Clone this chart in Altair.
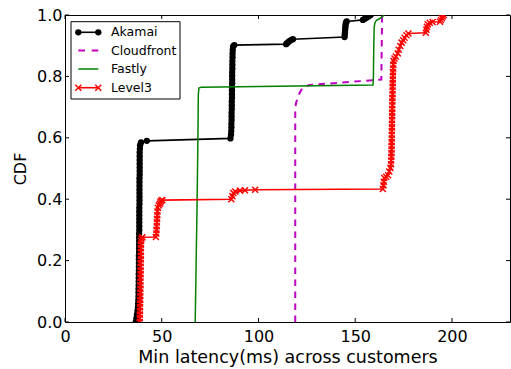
import altair as alt
import pandas as pd

# ---------------- data ----------------
series_names = ["Akamai", "Cloudfront", "Fastly", "Level3"]
series_colors = ["#000000", "#bf00bf", "#008000", "#ff0000"]

# (latency ms, CDF) points, one per customer step
akamai_pts = [
    (36.6, 0.000), (36.9, 0.012), (37.2, 0.024), (37.5, 0.036), (37.7, 0.048), (37.8, 0.060),
    (37.9, 0.072), (38.0, 0.084), (38.0, 0.096), (38.0, 0.108), (38.1, 0.120), (38.1, 0.132),
    (38.1, 0.144), (38.1, 0.156), (38.2, 0.168), (38.2, 0.180), (38.2, 0.192), (38.2, 0.204),
    (38.2, 0.216), (38.3, 0.228), (38.3, 0.240), (38.3, 0.252), (38.3, 0.264), (38.3, 0.276),
    (38.3, 0.288), (38.4, 0.300), (38.4, 0.312), (38.4, 0.324), (38.4, 0.336), (38.4, 0.348),
    (38.4, 0.360), (38.4, 0.372), (38.5, 0.384), (38.5, 0.396), (38.5, 0.408), (38.5, 0.420),
    (38.5, 0.432), (38.5, 0.444), (38.5, 0.456), (38.5, 0.468), (38.6, 0.480), (38.6, 0.492),
    (38.6, 0.504), (38.6, 0.516), (38.6, 0.528), (38.6, 0.540), (38.6, 0.552), (38.7, 0.564),
    (38.8, 0.576), (39.3, 0.585), (42.3, 0.590),
    (85.5, 0.598), (85.8, 0.610), (85.9, 0.622), (86.0, 0.634), (86.0, 0.646), (86.1, 0.658),
    (86.1, 0.670), (86.1, 0.682), (86.2, 0.694), (86.2, 0.706), (86.2, 0.718), (86.3, 0.730),
    (86.3, 0.742), (86.3, 0.754), (86.3, 0.766), (86.4, 0.778), (86.4, 0.790), (86.4, 0.802),
    (86.4, 0.814), (86.5, 0.826), (86.5, 0.838), (86.5, 0.850), (86.6, 0.862), (86.6, 0.874),
    (86.7, 0.886), (86.9, 0.898), (87.5, 0.902),
    (114.3, 0.905), (114.8, 0.908), (115.5, 0.912), (116.2, 0.916), (117.0, 0.919), (117.8, 0.921),
    (144.5, 0.928), (144.6, 0.936), (144.7, 0.944), (144.8, 0.952), (144.9, 0.960), (145.0, 0.968),
    (145.2, 0.975), (145.6, 0.979),
    (154.0, 0.984), (155.0, 0.988), (156.0, 0.992), (157.0, 0.996), (158.0, 1.000),
]

cloudfront_pts = [
    (119.0, 0.0), (119.0, 0.70), (119.5, 0.715), (120.3, 0.73), (121.2, 0.745), (122.5, 0.76),
    (124.5, 0.768), (126.4, 0.772), (160.0, 0.788), (163.5, 0.790), (163.7, 0.90), (163.9, 1.0),
]

fastly_pts = [
    (67.3, 0.0), (67.8, 0.2), (68.3, 0.4), (68.7, 0.6), (68.9, 0.74), (69.2, 0.762), (70.5, 0.765),
    (159.2, 0.772), (159.4, 0.80), (159.6, 0.90), (159.8, 0.96), (160.2, 0.975), (161.0, 0.983),
    (162.3, 0.987), (164.0, 0.995), (165.0, 1.0),
]

level3_pts = [
    (38.6, 0.000), (38.6, 0.012), (38.7, 0.024), (38.7, 0.036), (38.8, 0.048), (38.8, 0.060),
    (38.9, 0.072), (38.9, 0.084), (38.9, 0.096), (39.0, 0.108), (39.0, 0.120), (39.0, 0.132),
    (39.0, 0.144), (39.1, 0.156), (39.1, 0.168), (39.1, 0.180), (39.1, 0.192), (39.2, 0.204),
    (39.2, 0.216), (39.2, 0.228), (39.2, 0.240), (39.3, 0.252), (39.3, 0.264), (39.5, 0.272),
    (40.0, 0.276),
    (47.0, 0.277), (47.2, 0.288), (47.3, 0.300), (47.4, 0.312), (47.5, 0.324), (47.6, 0.336),
    (47.7, 0.348), (47.8, 0.360), (48.0, 0.372), (48.5, 0.380), (49.0, 0.385), (49.3, 0.390),
    (49.6, 0.395), (50.3, 0.397),
    (86.0, 0.400), (86.5, 0.410), (87.0, 0.420), (88.0, 0.425), (90.5, 0.428), (93.0, 0.429),
    (98.3, 0.431),
    (164.3, 0.433), (164.6, 0.445), (164.8, 0.457), (165.0, 0.469), (166.0, 0.473), (167.0, 0.478),
    (167.6, 0.490), (168.2, 0.502), (168.5, 0.514), (168.6, 0.526),
    (168.7, 0.538), (168.7, 0.550), (168.8, 0.562), (168.8, 0.574), (168.8, 0.586), (168.9, 0.598),
    (168.9, 0.610), (168.9, 0.622), (169.0, 0.634), (169.0, 0.646), (169.0, 0.658), (169.1, 0.670),
    (169.1, 0.682), (169.1, 0.694), (169.2, 0.706), (169.2, 0.718), (169.2, 0.730), (169.3, 0.742),
    (169.3, 0.754), (169.3, 0.766), (169.4, 0.778), (169.4, 0.790), (169.5, 0.802), (169.5, 0.814),
    (169.6, 0.826), (169.7, 0.838), (169.8, 0.850),
    (170.3, 0.858), (171.0, 0.865), (172.0, 0.875), (172.5, 0.887), (173.3, 0.899), (174.0, 0.910),
    (174.8, 0.918), (175.5, 0.926), (176.5, 0.934), (177.5, 0.940),
    (186.5, 0.942), (186.8, 0.952), (187.1, 0.962), (187.5, 0.970), (188.5, 0.975), (190.0, 0.977),
    (193.8, 0.978), (194.3, 0.984), (194.8, 0.990), (195.2, 0.995), (195.7, 1.000),
]

x_ticks = [0, 50, 100, 150, 200]
y_ticks = [0.0, 0.2, 0.4, 0.6, 0.8, 1.0]
x_title = "Min latency(ms) across customers"
y_title = "CDF"

# ---------------- layout ----------------
W, H = 445, 307
FONT = "DejaVu Sans"

xscale = alt.Scale(domain=[0, 230], nice=False, zero=False)
yscale = alt.Scale(domain=[0, 1], nice=False, zero=False)

xaxis = alt.Axis(values=x_ticks, ticks=False, domain=False, grid=False, format="d",
                 labelFontSize=16, labelFont=FONT, labelColor="black", labelPadding=6,
                 labelFlush=False, labelOverlap=False,
                 title=x_title, titleFont=FONT, titleFontSize=17.5, titleFontWeight="normal",
                 titleColor="black", titlePadding=4)
yaxis = alt.Axis(values=y_ticks, ticks=False, domain=False, grid=False, format=".1f",
                 labelFontSize=16, labelFont=FONT, labelColor="black", labelPadding=3,
                 labelFlush=False, labelOverlap=False,
                 title=y_title, titleFont=FONT, titleFontSize=16, titleFontWeight="normal",
                 titleColor="black", titlePadding=8)


def X(f):
    return alt.X(f, type="quantitative", scale=xscale, axis=xaxis)


def Y(f):
    return alt.Y(f, type="quantitative", scale=yscale, axis=yaxis)


def frame(pts):
    return pd.DataFrame({"x": [p[0] for p in pts], "y": [p[1] for p in pts],
                         "i": list(range(len(pts)))})


ak = frame(akamai_pts)
cf = frame(cloudfront_pts)
fa = frame(fastly_pts)
l3 = frame(level3_pts)

XMARK = "M-1,-1L1,1M-1,1L1,-1"

layers = []
layers.append(alt.Chart(ak).mark_line(color=series_colors[0], strokeWidth=1.6, clip=True)
              .encode(x=X("x"), y=Y("y"), order="i:Q"))
layers.append(alt.Chart(ak).mark_circle(color=series_colors[0], size=40, opacity=1, clip=True)
              .encode(x=X("x"), y=Y("y")))
layers.append(alt.Chart(cf).mark_line(color=series_colors[1], strokeWidth=2, strokeDash=[6.5, 5.5], clip=True)
              .encode(x=X("x"), y=Y("y"), order="i:Q"))
layers.append(alt.Chart(fa).mark_line(color=series_colors[2], strokeWidth=1.5, clip=True)
              .encode(x=X("x"), y=Y("y"), order="i:Q"))
layers.append(alt.Chart(l3).mark_line(color=series_colors[3], strokeWidth=1.6, clip=True)
              .encode(x=X("x"), y=Y("y"), order="i:Q"))
layers.append(alt.Chart(l3).mark_point(shape=XMARK, color=series_colors[3], size=36, filled=False,
                                       strokeWidth=1.5, opacity=1, clip=True)
              .encode(x=X("x"), y=Y("y")))

# inward tick marks on all four sides
xt = pd.DataFrame({"t": x_ticks})
yt = pd.DataFrame({"t": y_ticks})
TL = 4
layers.append(alt.Chart(xt).mark_rule(color="black", strokeWidth=1)
              .encode(x=X("t"), y=alt.value(H), y2=alt.value(H - TL)))
layers.append(alt.Chart(xt).mark_rule(color="black", strokeWidth=1)
              .encode(x=X("t"), y=alt.value(0), y2=alt.value(TL)))
layers.append(alt.Chart(yt).mark_rule(color="black", strokeWidth=1)
              .encode(y=Y("t"), x=alt.value(0), x2=alt.value(TL)))
layers.append(alt.Chart(yt).mark_rule(color="black", strokeWidth=1)
              .encode(y=Y("t"), x=alt.value(W), x2=alt.value(W - TL)))

# legend (matplotlib-style box)
one = pd.DataFrame({"k": [0]})
LX0, LX1, LY0, LY1 = 6, 115, 6.7, 84
layers.append(alt.Chart(one).mark_rect(fill="white", stroke="black", strokeWidth=1)
              .encode(x=alt.value(LX0), x2=alt.value(LX1), y=alt.value(LY0), y2=alt.value(LY1)))
row_y = [17.3, 35.5, 54, 72.7]
seg0, seg1, txt_x = 13.3, 33.3, 46
for name, col, ry in zip(series_names, series_colors, row_y):
    kw = dict(color=col, strokeWidth=1.6)
    if name == "Cloudfront":
        kw = dict(color=col, strokeWidth=2, strokeDash=[6.7, 6.7])
    if name == "Fastly":
        kw = dict(color=col, strokeWidth=1.5)
    layers.append(alt.Chart(one).mark_rule(**kw)
                  .encode(x=alt.value(seg0), x2=alt.value(seg1), y=alt.value(ry)))
    for mx in (seg0, seg1):
        if name == "Akamai":
            layers.append(alt.Chart(one).mark_circle(color=col, size=40, opacity=1)
                          .encode(x=alt.value(mx), y=alt.value(ry)))
        if name == "Level3":
            layers.append(alt.Chart(one).mark_point(shape=XMARK, color=col, size=36, filled=False,
                                                    strokeWidth=1.5, opacity=1)
                          .encode(x=alt.value(mx), y=alt.value(ry)))
    layers.append(alt.Chart(one).mark_text(text=name, align="left", baseline="middle",
                                           font=FONT, fontSize=12.5, color="black")
                  .encode(x=alt.value(txt_x), y=alt.value(ry)))

chart = (alt.layer(*layers)
         .properties(width=W, height=H,
                     autosize=alt.AutoSizeParams(type="none"),
                     padding={"left": 65, "top": 15, "right": 1, "bottom": 47},
                     background="white")
         .configure_view(stroke="black", strokeWidth=1))

chart.save("out.html", embed_options={"renderer": "svg", "actions": False})
